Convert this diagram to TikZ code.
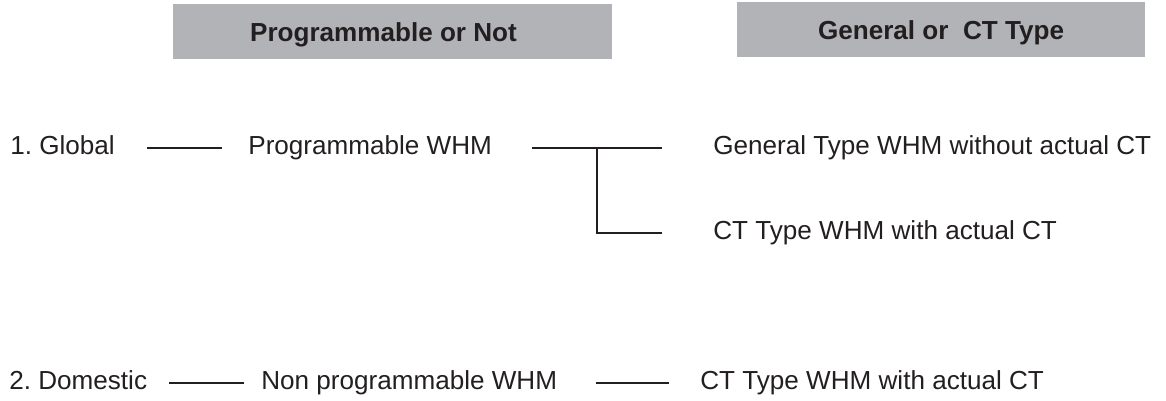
\documentclass[tikz,border=0pt]{standalone}
\usepackage{fontspec}
\setmainfont{Liberation Sans}
\usepackage{xcolor}
\usepackage{tikz}
\usetikzlibrary{positioning,calc}
\definecolor{hdrgray}{RGB}{178,179,183}
\definecolor{ink}{RGB}{35,31,32}

\begin{document}
\begin{tikzpicture}[
    x=0.02cm,y=-0.02cm,
    every node/.style={font=\fontsize{14.85pt}{18pt}\selectfont,text=ink,
                       inner sep=0pt,text height=0.716em,text depth=0pt},
    hdr/.style={rectangle,fill=hdrgray,font=\fontsize{14.85pt}{18pt}\selectfont\bfseries,
                text height=0.716em+0.16cm,minimum height=1.1cm},
    item/.style={anchor=west},
    link/.style={draw=ink,line width=0.8pt},
]
    \useasboundingbox (0,0) rectangle (1166,401);

    \node[hdr,minimum width=8.78cm] (hprog) at (392.5,31.5) {Programmable or Not\hspace*{0.36cm}};
    \node[hdr,minimum width=8.16cm] (hgen)  at (941,29.5)   {General or\ \ CT Type};

    \node[item] (glob) at (10,148)  {1.\ Global};
    \node[item] (prog) at (248,148) {Programmable WHM};
    \node[item] (gen)  at (713,148) {General Type WHM without actual CT};
    \node[item] (ctg)  at (713,233) {CT Type WHM with actual CT};
    \coordinate (fork) at (597,148);

    \node[item] (dom)  at (9,383)   {2.\ Domestic};
    \node[item] (nonp) at (261,383) {Non programmable WHM};
    \node[item] (ctd)  at (700,383) {CT Type WHM with actual CT};

    \draw[link,shorten <=0.64cm,shorten >=0.52cm] (glob) -- (prog);
    \draw[link,shorten <=0.8cm,shorten >=1.02cm]  (prog) -- (gen);
    \draw[link,shorten >=1.02cm] (fork) |- (ctg);
    \draw[link,shorten <=0.44cm,shorten >=0.34cm] (dom)  -- (nonp);
    \draw[link,shorten <=0.78cm,shorten >=0.62cm] (nonp) -- (ctd);
\end{tikzpicture}
\end{document}
